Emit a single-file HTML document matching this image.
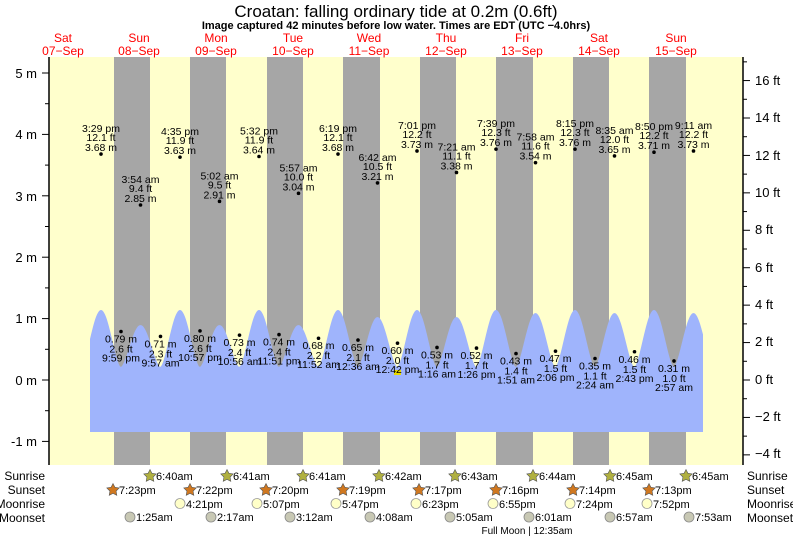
<!DOCTYPE html>
<html><head><meta charset="utf-8"><style>
html,body{margin:0;padding:0;background:#fff;}
svg{display:block;font-family:"Liberation Sans",sans-serif;}
</style></head><body>
<svg id="s" width="793" height="539" viewBox="0 0 793 539" xmlns="http://www.w3.org/2000/svg">
<rect x="0" y="0" width="793" height="539" fill="#fff"/>
<rect x="49" y="57" width="694" height="408" fill="#ffffcc"/>
<g fill="#a6a6a6">
<rect x="114" y="57" width="36" height="408"/><rect x="190" y="57" width="36" height="408"/>
<rect x="267" y="57" width="36" height="408"/><rect x="343" y="57" width="37" height="408"/>
<rect x="420" y="57" width="36" height="408"/><rect x="496" y="57" width="37" height="408"/>
<rect x="573" y="57" width="36" height="408"/><rect x="649" y="57" width="37" height="408"/>
</g>
<path id="wave" fill="#9fb4fc" d=""/>
<rect x="394" y="370" width="7" height="5" fill="#e8d800"/>
<line x1="49" y1="57" x2="49" y2="465" stroke="#000" stroke-width="1.5"/>
<line x1="743" y1="57" x2="743" y2="465" stroke="#000" stroke-width="1.5"/>
<g id="ticks" stroke="#000" stroke-width="1"></g>
<g font-size="13" fill="#000" text-anchor="end">
<text x="37" y="78">5 m</text><text x="37" y="139">4 m</text><text x="37" y="201">3 m</text>
<text x="37" y="262">2 m</text><text x="37" y="323">1 m</text><text x="37" y="385">0 m</text><text x="37" y="446">-1 m</text>
</g>
<g font-size="13" fill="#000">
<text x="755" y="85">16 ft</text><text x="755" y="122">14 ft</text><text x="755" y="160">12 ft</text>
<text x="755" y="197">10 ft</text><text x="755" y="234">8 ft</text><text x="755" y="272">6 ft</text>
<text x="755" y="309">4 ft</text><text x="755" y="346">2 ft</text><text x="755" y="384">0 ft</text>
<text x="755" y="421">−2 ft</text><text x="755" y="458">−4 ft</text>
</g>
<text x="396" y="17" font-size="17" text-anchor="middle">Croatan: falling  ordinary tide at 0.2m (0.6ft)</text>
<text x="396" y="29" font-size="11" font-weight="bold" text-anchor="middle">Image captured 42 minutes before low water. Times are EDT (UTC −4.0hrs)</text>
<g id="days" font-size="12" fill="#ff0000" text-anchor="middle"></g>
<g id="tides" font-size="10.5" fill="#000" text-anchor="middle"></g>
<g font-size="12" fill="#000" text-anchor="end">
<text x="45" y="480">Sunrise</text><text x="45" y="494">Sunset</text><text x="45" y="508">Moonrise</text><text x="45" y="522">Moonset</text>
</g>
<g font-size="12" fill="#000">
<text x="747" y="480">Sunrise</text><text x="747" y="494">Sunset</text><text x="747" y="508">Moonrise</text><text x="747" y="522">Moonset</text>
</g>
<g id="astro" font-size="11" fill="#000"></g>
<text x="527" y="534" font-size="10" text-anchor="middle">Full Moon | 12:35am</text>
</svg>
<script>
var NS="http://www.w3.org/2000/svg";
function el(p,t,a,txt){var e=document.createElementNS(NS,t);for(var k in a)e.setAttribute(k,a[k]);if(txt!=null)e.textContent=txt;document.getElementById(p).appendChild(e);return e;}
function yAt(x){
  var k=(x-101)/39.5, n=Math.floor(k), f=k-n;
  function amp(j){ if(j<0)j=0; if(j>15)j=15; if(j%2==0)return 310; return j<6?325:(j<10?317:313);}
  var trough=367;
  var a=amp(n), b=amp(n+1);
  var c=(1+Math.cos(2*Math.PI*f))/2;
  var top = f<0.5? a : b;
  return trough-(trough-top)*Math.pow(c,0.8);
}
var d="M90,432 L90,"+yAt(90).toFixed(1);
for(var x=90;x<=703;x+=1){d+=" L"+x+","+yAt(x).toFixed(1);}
d+=" L703,331 L703,432 Z";
document.getElementById("wave").setAttribute("d",d);
for(var m=-1;m<=5;m+=0.5){var y=380-m*61.4;el("ticks","line",{x1:m%1==0?42:45,y1:y,x2:49,y2:y});}
for(var ft=-4;ft<=17;ft++){var y=380-ft*0.3048*61.4;el("ticks","line",{x1:743,y1:y,x2:ft%2==0?750:747,y2:y});}
var dn=[["Sat","07-Sep",63],["Sun","08-Sep",139],["Mon","09-Sep",216],["Tue","10-Sep",293],["Wed","11-Sep",369],["Thu","12-Sep",446],["Fri","13-Sep",522],["Sat","14-Sep",599],["Sun","15-Sep",676]];
dn.forEach(function(q){el("days","text",{x:q[2],y:42},q[0]);el("days","text",{x:q[2],y:55},q[1].replace("-","\u2212"));});
var hi=[["3:29 pm","12.1",3.68],["3:54 am","9.4",2.85],["4:35 pm","11.9",3.63],["5:02 am","9.5",2.91],["5:32 pm","11.9",3.64],["5:57 am","10.0",3.04],["6:19 pm","12.1",3.68],["6:42 am","10.5",3.21],["7:01 pm","12.2",3.73],["7:21 am","11.1",3.38],["7:39 pm","12.3",3.76],["7:58 am","11.6",3.54],["8:15 pm","12.3",3.76],["8:35 am","12.0",3.65],["8:50 pm","12.2",3.71],["9:11 am","12.2",3.73]];
hi.forEach(function(h,i){var x=101+39.5*i,y=380-h[2]*61.4;
 el("tides","circle",{cx:x,cy:y,r:1.8});
 el("tides","text",{x:x,y:y-22},h[0]);el("tides","text",{x:x,y:y-13},h[1]+" ft");el("tides","text",{x:x,y:y-3},h[2].toFixed(2)+" m");});
var lo=[[0.79,"2.6","9:59 pm"],[0.71,"2.3","9:57 am"],[0.80,"2.6","10:57 pm"],[0.73,"2.4","10:56 am"],[0.74,"2.4","11:51 pm"],[0.68,"2.2","11:52 am"],[0.65,"2.1","12:36 am"],[0.60,"2.0","12:42 pm"],[0.53,"1.7","1:16 am"],[0.52,"1.7","1:26 pm"],[0.43,"1.4","1:51 am"],[0.47,"1.5","2:06 pm"],[0.35,"1.1","2:24 am"],[0.46,"1.5","2:43 pm"],[0.31,"1.0","2:57 am"]];
lo.forEach(function(h,i){var x=121+39.5*i,y=380-h[0]*61.4;
 el("tides","circle",{cx:x,cy:y,r:1.8});
 el("tides","text",{x:x,y:y+11},h[0].toFixed(2)+" m");el("tides","text",{x:x,y:y+21},h[1]+" ft");el("tides","text",{x:x,y:y+30},h[2]);});
function star(cx,cy,fill){var p="";for(var k=0;k<10;k++){var r=k%2?3.3:6.5,a=-Math.PI/2+k*Math.PI/5;p+=(k?"L":"M")+(cx+r*Math.cos(a)).toFixed(1)+","+(cy+r*Math.sin(a)).toFixed(1);}el("astro","path",{d:p+"Z",fill:fill,stroke:"#555","stroke-width":0.6});}
var sr=[[150,"6:40am"],[227,"6:41am"],[303,"6:41am"],[379,"6:42am"],[455,"6:43am"],[533,"6:44am"],[610,"6:45am"],[686,"6:45am"]];
sr.forEach(function(s){star(s[0],476,"#b0b040");el("astro","text",{x:s[0]+6,y:480},s[1]);});
var ss=[[113,"7:23pm"],[190,"7:22pm"],[266,"7:20pm"],[343,"7:19pm"],[419,"7:17pm"],[496,"7:16pm"],[573,"7:14pm"],[649,"7:13pm"]];
ss.forEach(function(s){star(s[0],490,"#d07820");el("astro","text",{x:s[0]+6,y:494},s[1]);});
var mr=[[180,"4:21pm"],[257,"5:07pm"],[336,"5:47pm"],[416,"6:23pm"],[493,"6:55pm"],[570,"7:24pm"],[647,"7:52pm"]];
mr.forEach(function(s){el("astro","circle",{cx:s[0],cy:503.5,r:5,fill:"#ffffc8",stroke:"#999","stroke-width":0.8});el("astro","text",{x:s[0]+6,y:508},s[1]);});
var ms=[[130,"1:25am"],[211,"2:17am"],[290,"3:12am"],[370,"4:08am"],[450,"5:05am"],[529,"6:01am"],[610,"6:57am"],[689,"7:53am"]];
ms.forEach(function(s){el("astro","circle",{cx:s[0],cy:517,r:5,fill:"#c8c8b4",stroke:"#888","stroke-width":0.8});el("astro","text",{x:s[0]+6,y:521},s[1]);});
</script>
</body></html>
